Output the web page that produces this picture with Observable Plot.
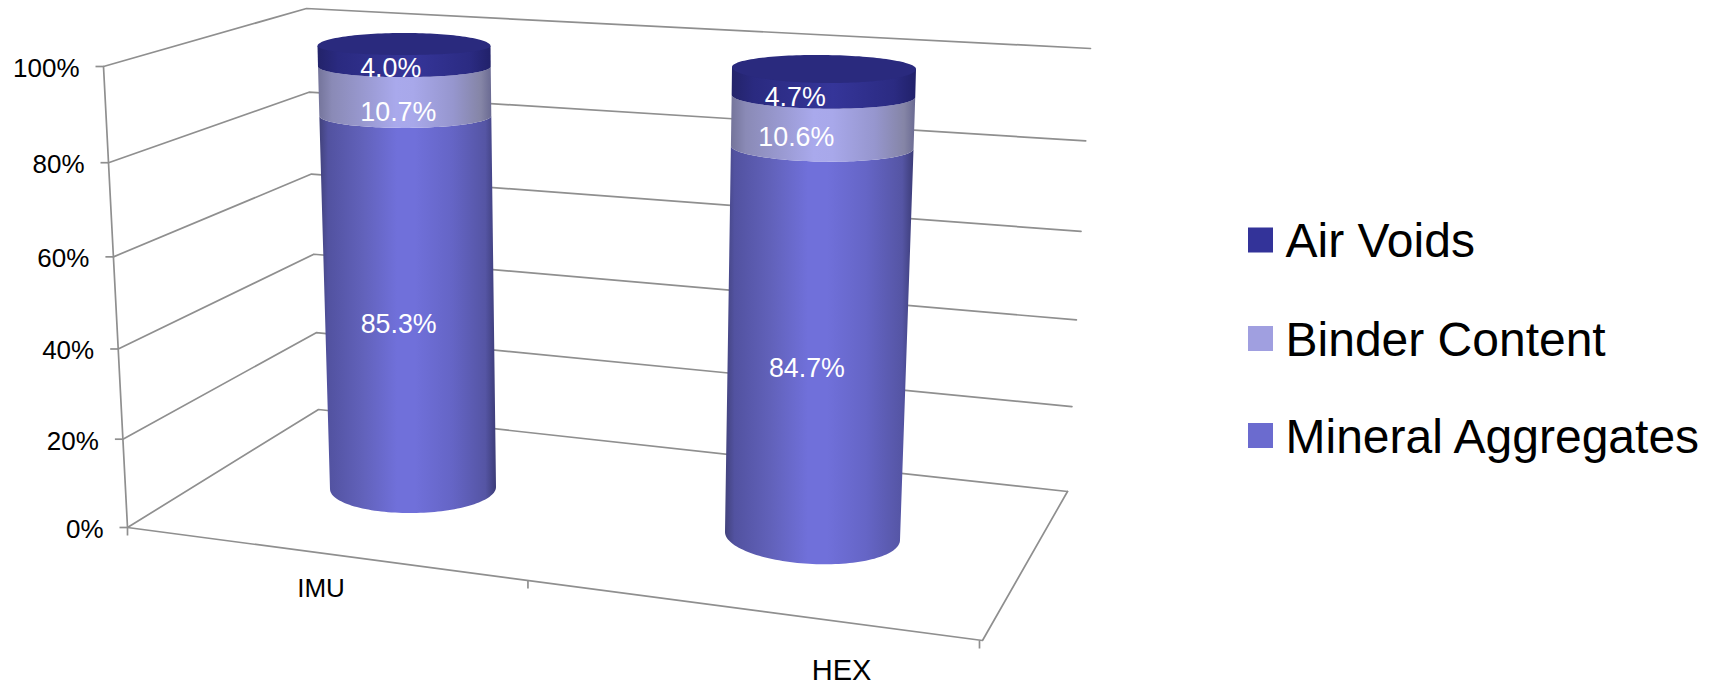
<!DOCTYPE html>
<html>
<head>
<meta charset="utf-8">
<title>Mix composition</title>
<script src="https://cdn.jsdelivr.net/npm/d3@7"></script>
<script src="https://cdn.jsdelivr.net/npm/@observablehq/plot@0.6"></script>
<style>
  html, body { margin: 0; padding: 0; background: #fff; }
  svg { display: block; }
</style>
</head>
<body>
<div id="chart"></div>
<script>
// Stacked composition of each mix, in percent.
const categories = ["IMU", "HEX"];
const mineralAggregates = [85.3, 84.7];
const binderContent = [10.7, 10.6];
const airVoids = [4.0, 4.7];

const seriesNames = ["Mineral Aggregates", "Binder Content", "Air Voids"];
const seriesValues = [mineralAggregates, binderContent, airVoids];
const legendColors = ["#6b6bcf", "#a09fe0", "#333399"];
const capColor = "#2a2a7e";

const percentTicks = [0, 20, 40, 60, 80, 100];
const percentLabels = ["0%", "20%", "40%", "60%", "80%", "100%"];

// Horizontal cylinder shading, one stop list per series.
const shading = [
  [[0, "#42427c"], [0.05, "#5252a0"], [0.25, "#6262bb"], [0.44, "#7070da"], [0.54, "#7070da"], [0.75, "#6565c6"], [0.94, "#5555a4"], [1, "#3c3c78"]],
  [[0, "#74749a"], [0.08, "#8a8ab6"], [0.28, "#9a9ad2"], [0.45, "#a9a9ec"], [0.55, "#a8a8ea"], [0.78, "#9696ce"], [0.94, "#8585a6"], [1, "#6a6a92"]],
  [[0, "#23236a"], [0.12, "#2a2a80"], [0.55, "#353599"], [0.88, "#2b2b82"], [1, "#21216a"]]
];

// Corners of the pseudo-3D chart box: [x, y] at 0% and at 100%.
const frontLeft = [[127, 527], [103, 66]];
const backLeft = [[318, 409], [306, 8]];
const backRight = [[1067, 491], [1090, 48]];
const frontRightFloor = [982, 640];

// Cylinder frame per category: centre, half width and ellipse depth at 0% and at 100%.
const cylinders = [
  {cx: [413, 404], rx: [83, 86.5], cy: [488, 48], ry: [25, 10], tilt: [-1, 0], capBack: 13, capFront: 9, capLift: 2},
  {cx: [812.5, 824], rx: [87.5, 92], cy: [536, 73], ry: [28, 12], tilt: [4, 1], capBack: 13, capFront: 15, capLift: 5}
];

// Offsets of the value labels from each band's centre line.
const labelShift = [
  [[-11, 18], [-7, 21], [-14, 11]],
  [[-11, 22], [-27, 15], [-29, 12]]
];

const lerp = (a, b, t) => a + (b - a) * t;
const depthEase = (t) => t / (t + (1 - t) * 1.055);
const onEdge = ([p0, p1], pct) => {
  const f = depthEase(pct / 100);
  return [lerp(p0[0], p1[0], f), lerp(p0[1], p1[1], f)];
};

// Ellipse of a cylinder at a given stacked percent.
function rim(c, pct) {
  const t = pct / 100, f = depthEase(t);
  return {
    cx: lerp(c.cx[0], c.cx[1], t),
    rx: lerp(c.rx[0], c.rx[1], t),
    cy: lerp(c.cy[0], c.cy[1], f),
    ry: lerp(c.ry[0], c.ry[1], t),
    tilt: lerp(c.tilt[0], c.tilt[1], t)
  };
}
const angles = d3.range(0, 73).map((i) => Math.PI * (1 - i / 72));
const rimPoint = (r, a, ry = r.ry, lift = 0) => [
  r.cx + r.rx * Math.cos(a),
  r.cy - lift + ry * Math.sin(a) + r.tilt * Math.cos(a)
];

// Gridlines run along the left wall and then the back wall.
const gridRows = percentTicks.flatMap((p) =>
  [onEdge(frontLeft, p), onEdge(backLeft, p), onEdge(backRight, p)].map(([x, y]) => ({tick: p, x, y}))
);
const spineRows = [0, 100].map((p) => {
  const [x, y] = onEdge(frontLeft, p);
  return {x, y};
});
const floorRows = [frontLeft[0], frontRightFloor, backRight[0]].map(([x, y]) => ({x, y}));
const yTickRows = percentTicks.map((p, i) => {
  const [x, y] = onEdge(frontLeft, p);
  return {x, y, label: percentLabels[i]};
});

// Category separators hang below the front floor edge.
const separatorRows = [0, 0.47, 1].map((u) => ({
  x: lerp(frontLeft[0][0], frontRightFloor[0] - 3, u),
  y: lerp(frontLeft[0][1], frontRightFloor[1], u)
}));

// Side band of each stacked segment, plus its value label.
const bands = [];
const valueLabels = [];
categories.forEach((name, i) => {
  const c = cylinders[i];
  let base = 0;
  seriesValues.forEach((values, s) => {
    const top = base + values[i];
    const lo = rim(c, base), hi = rim(c, top);
    const last = s === seriesValues.length - 1;
    bands.push({
      series: s,
      rows: angles.map((a) => {
        const [x1, y1] = rimPoint(lo, a);
        // The uppermost band reaches the shoulder of the top face, which then covers it.
        const [x2, y2] = last ? rimPoint(hi, a, 0, c.capLift) : rimPoint(hi, a);
        return {x1, y1, x2, y2};
      })
    });
    const mid = rim(c, (base + top) / 2);
    valueLabels.push({
      x: mid.cx + labelShift[i][s][0],
      y: mid.cy + labelShift[i][s][1],
      text: `${values[i].toFixed(1)}%`
    });
    base = top;
  });
});

// Top face of each cylinder.
const caps = cylinders.map((c) => {
  const r = rim(c, 100);
  return angles.map((a) => {
    const [x1, y1] = rimPoint(r, a, c.capFront, c.capLift);
    const [x2, y2] = rimPoint(r, a, -c.capBack, c.capLift);
    return {x1, y1, x2, y2};
  });
});

const categoryRows = [
  {x: 320.5, y: 588, label: categories[0], size: 26},
  {x: 841, y: 670, label: categories[1], size: 29}
];

const legendRows = [
  {name: seriesNames[2], color: legendColors[2], y: 240},
  {name: seriesNames[1], color: legendColors[1], y: 338.5},
  {name: seriesNames[0], color: legendColors[0], y: 435.5}
];

function gradientDefs() {
  const defs = d3.create("svg:defs");
  shading.forEach((stops, s) => {
    const g = defs.append("linearGradient").attr("id", `shade${s}`).attr("x1", 0).attr("x2", 1).attr("y1", 0).attr("y2", 0);
    stops.forEach(([o, c]) => g.append("stop").attr("offset", o).attr("stop-color", c));
  });
  return defs.node();
}

const gridColor = "#8f8f8f";
const chart = Plot.plot({
  width: 1715,
  height: 685,
  margin: 0,
  x: {domain: [0, 1715], range: [0, 1715], axis: null},
  y: {domain: [0, 685], range: [0, 685], axis: null},
  style: {fontFamily: "'Liberation Sans', Arial, sans-serif", background: "#fff"},
  marks: [
    gradientDefs,
    Plot.line(gridRows, {x: "x", y: "y", z: "tick", stroke: gridColor, strokeWidth: 1.7}),
    Plot.line(spineRows, {x: "x", y: "y", stroke: gridColor, strokeWidth: 1.7}),
    Plot.line(floorRows, {x: "x", y: "y", stroke: gridColor, strokeWidth: 1.7}),
    Plot.link(yTickRows, {x1: (d) => d.x - 8, x2: "x", y1: "y", y2: "y", stroke: gridColor, strokeWidth: 1.7}),
    Plot.link(separatorRows, {x1: "x", x2: "x", y1: "y", y2: (d) => d.y + 8, stroke: gridColor, strokeWidth: 1.7}),
    Plot.text(yTickRows, {x: (d) => d.x - 24, y: (d) => d.y + 2, text: "label", textAnchor: "end", lineAnchor: "middle", fontSize: 26, fill: "#000"}),
    Plot.text(categoryRows, {x: "x", y: "y", text: "label", lineAnchor: "middle", fontSize: "size", fill: "#000"}),
    ...bands.map((b) => Plot.area(b.rows, {x1: "x1", y1: "y1", x2: "x2", y2: "y2", fill: `url(#shade${b.series})`})),
    ...caps.map((rows) => Plot.area(rows, {x1: "x1", y1: "y1", x2: "x2", y2: "y2", fill: capColor})),
    Plot.text(valueLabels, {x: "x", y: "y", text: "text", lineAnchor: "middle", fontSize: 26.8, fill: "#fff"}),
    Plot.rect(legendRows, {x1: () => 1248, x2: () => 1273, y1: (d) => d.y - 12.5, y2: (d) => d.y + 12.5, fill: "color"}),
    Plot.text(legendRows, {x: () => 1285, y: (d) => d.y + 1.5, text: "name", textAnchor: "start", lineAnchor: "middle", fontSize: 48, fill: "#000"})
  ]
});
document.getElementById("chart").append(chart);
</script>
</body>
</html>
